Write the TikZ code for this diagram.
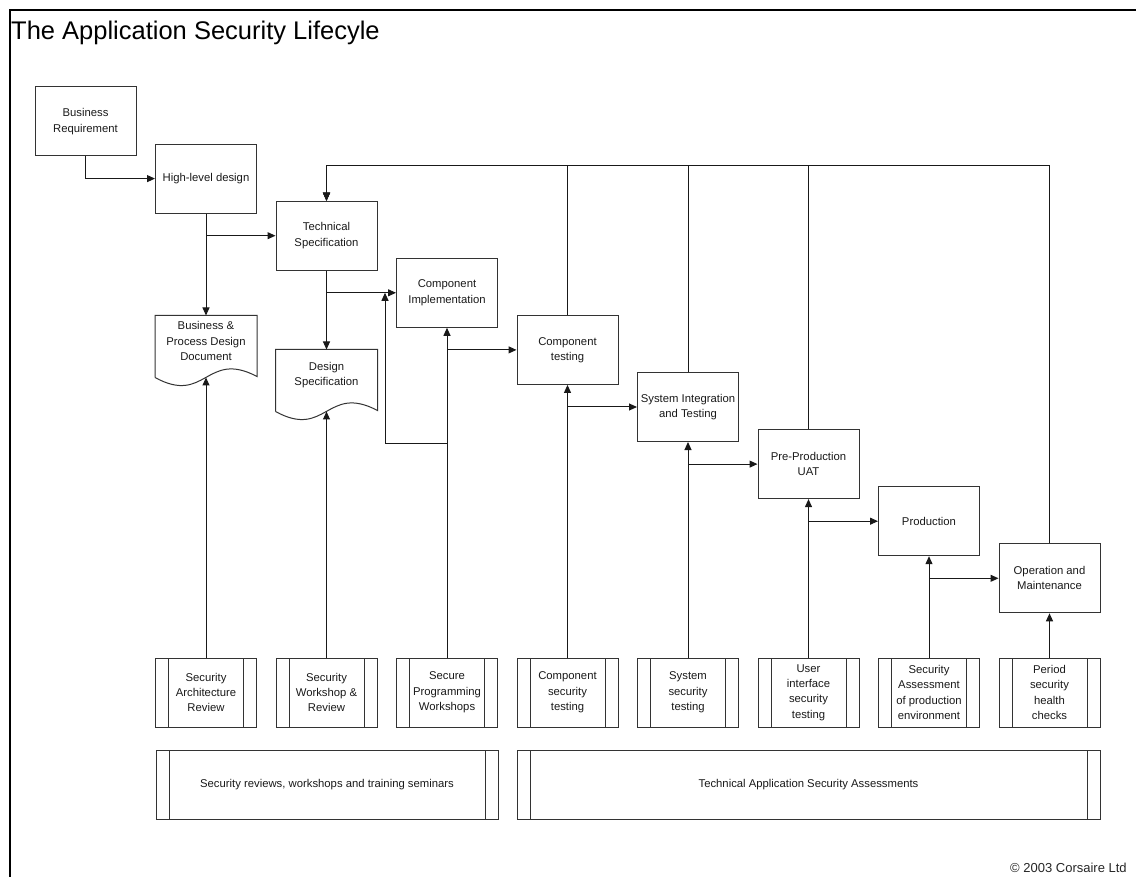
\documentclass[tikz,border=0pt]{standalone}
\usepackage{fontspec}
\setmainfont{Liberation Sans}
\usetikzlibrary{arrows.meta}
\begin{document}
\begin{tikzpicture}[x=1pt,y=-1pt,>={Triangle[length=8pt,width=7pt]},
  boxline/.style={draw=black!80,line width=1pt},
  box/.style={boxline,rectangle,minimum width=101pt,minimum height=69pt,inner sep=0pt,align=center,text=black!90,font=\fontsize{11.3}{15.3}\selectfont},
  docbox/.style={box,draw=none,minimum height=50pt},
  subproc/.style={box,path picture={\draw[boxline] ([xshift=13pt]path picture bounding box.north west) -- ([xshift=13pt]path picture bounding box.south west) ([xshift=-13pt]path picture bounding box.north east) -- ([xshift=-13pt]path picture bounding box.south east);}},
  conn/.style={draw=black!90,line width=1pt}]
\useasboundingbox (0,0) rectangle (1136,877);
\draw[line width=2pt] (10,890) -- (10,10) -- (1150,10);
\node[anchor=base west,inner sep=0pt,font=\fontsize{25.5}{30}\selectfont] (title) at (11,39.5) {The Application Security Lifecyle};
\node[anchor=base west,inner sep=0pt,text=black!85,font=\fontsize{13}{15}\selectfont] (copy) at (1010,872) {© 2003 Corsaire Ltd};
\foreach \n/\x/\y/\t in {br/85.5/121.5/{Business\\Requirement},hld/206/178.6/{High-level design},ts/326.5/235.7/{Technical\\Specification},ci/447/292.8/{Component\\Implementation},ct/567.5/349.9/{Component\\testing},sit/688/407/{System Integration\\and Testing},uat/808.5/464.1/{Pre-Production\\UAT},prod/929/521.2/{Production},om/1049.5/578.3/{Operation and\\Maintenance}}
  \node[box] (\n) at (\x,\y) {\t};
\node[docbox] (bpd) at (206,341) {Business \&\\Process Design\\Document};
\node[docbox] (ds) at (326.5,375) {Design\\Specification};
\foreach \d in {bpd,ds}
  \draw[boxline] ([yshift=-11pt]\d.south west) -- (\d.north west) -- (\d.north east) -- ([yshift=-10pt]\d.south east) .. controls ([yshift=17pt]\d.south) and ([yshift=-39pt]\d.south) .. ([yshift=-11pt]\d.south west);
\foreach \n/\x/\t in {sar/206/{Security\\Architecture\\Review},swr/326.5/{Security\\Workshop \&\\Review},spw/447/{Secure\\Programming\\Workshops},cst/567.5/{Component\\security\\testing},sst/688/{System\\security\\testing},uist/808.5/{User\\interface\\security\\testing},sape/929/{Security\\Assessment\\of production\\environment},pshc/1049.5/{Period\\security\\health\\checks}}
  \node[subproc] (\n) at (\x,692.5) {\t};
\node[subproc,minimum width=342pt] (train) at (327,784.5) {Security reviews, workshops and training seminars};
\node[subproc,minimum width=583pt] (tasa) at (808.5,784.5) {Technical Application Security Assessments};
\draw[conn,->] (br.south) |- (hld.west);
\draw[conn,->] (hld.south) -- (bpd.north);
\draw[conn,->] (hld.south |- ts.west) -- (ts.west);
\draw[conn,->] (ts.south) -- (ds.north);
\draw[conn,->] (ts.south |- ci.west) -- (ci.west);
\draw[conn,->] (sar.north) -- ([yshift=-11pt]bpd.south);
\draw[conn,->] (swr.north) -- ([yshift=-11pt]ds.south);
\draw[conn,->] (spw.north) -- (ci.south);
\draw[conn,->] (ci.south |- ct.west) -- (ct.west);
\coordinate (back) at (385,443);
\draw[conn,->] (spw.north |- back) -- (back) -- (back |- ci.west);
\foreach \c/\d/\s in {ct/sit/cst,sit/uat/sst,uat/prod/uist,prod/om/sape}{
  \draw[conn,->] (\s.north) -- (\c.south);
  \draw[conn,->] (\c.south |- \d.west) -- (\d.west);}
\draw[conn,->] (pshc.north) -- (om.south);
\coordinate (fb) at (326.5,166);
\foreach \n in {ct,sit,uat,om}
  \draw[conn,->] (\n.north) |- (fb) -- (ts.north);
\end{tikzpicture}
\end{document}
